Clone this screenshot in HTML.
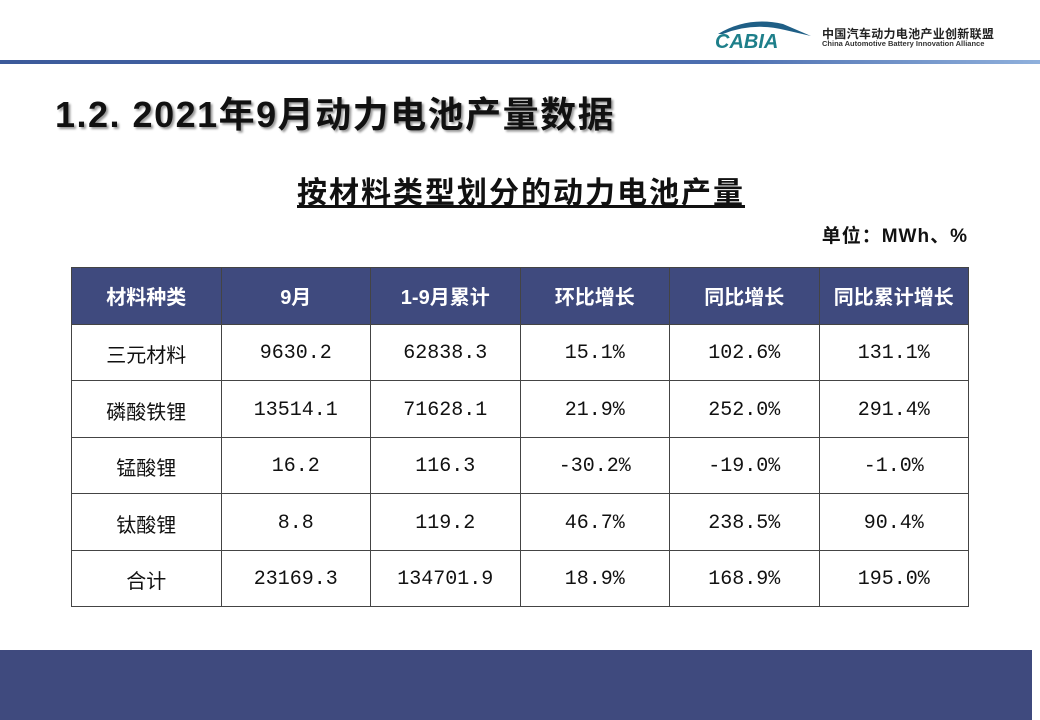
<!DOCTYPE html>
<html><head><meta charset="utf-8"><style>
body{margin:0;width:1040px;height:720px;background:#fff;position:relative;overflow:hidden;font-family:"Liberation Sans","Noto Sans CJK SC",sans-serif}
.line{position:absolute;left:0;top:60px;width:1040px;height:4px;background:linear-gradient(90deg,#3c5a9a,#4d6fb0 70%,#8fb0dc)}
.logo{position:absolute;left:713px;top:18px}
.cn{position:absolute;left:822px;top:25px;font-size:12px;font-weight:bold;color:#222;letter-spacing:0.3px}
.en{position:absolute;left:822px;top:39px;font-size:7.5px;font-weight:bold;color:#333}
h1{position:absolute;left:55px;top:86px;margin:0;font-size:36px;letter-spacing:1.5px;font-weight:bold;color:#111;text-shadow:2px 2px 2px #999;white-space:nowrap}
.sub{position:absolute;left:297px;top:168px;font-size:30px;letter-spacing:2px;font-weight:bold;text-decoration:underline;color:#111;white-space:nowrap}
.unit{position:absolute;right:72px;top:221px;font-size:19px;letter-spacing:1px;font-weight:bold;color:#111}
table{position:absolute;left:71px;top:267px;border-collapse:collapse;table-layout:fixed;width:898px}
td,th{border:1px solid #444;text-align:center;font-size:20px;color:#111;height:55.5px;padding:0}
th{background:#3f4a7e;color:#fff;font-weight:bold}
td{font-family:"Liberation Mono","Noto Sans CJK SC",monospace;padding-top:3px;height:52.5px}
td:first-child{font-family:"Liberation Sans","Noto Sans CJK SC",sans-serif}
.foot{position:absolute;left:0;top:650px;width:1032px;height:70px;background:#3f4a7e}
</style></head><body>
<svg class="logo" width="100" height="32" viewBox="0 0 100 32">
<path d="M5 16 Q35 -2 70 6 L98 18 L72 12 Q40 4 10 16Z" fill="#1f5f86"/>
<text x="2" y="30" font-family="Liberation Sans" font-style="italic" font-weight="bold" font-size="20" fill="#1e7f8a">CABIA</text>
</svg>
<div class="cn">中国汽车动力电池产业创新联盟</div>
<div class="en">China Automotive Battery Innovation Alliance</div>
<div class="line"></div>
<h1>1.2. 2021年9月动力电池产量数据</h1>
<div class="sub">按材料类型划分的动力电池产量</div>
<div class="unit">单位：MWh、%</div>
<table>
<tr><th>材料种类</th><th>9月</th><th>1-9月累计</th><th>环比增长</th><th>同比增长</th><th>同比累计增长</th></tr>
<tr><td>三元材料</td><td>9630.2</td><td>62838.3</td><td>15.1%</td><td>102.6%</td><td>131.1%</td></tr>
<tr><td>磷酸铁锂</td><td>13514.1</td><td>71628.1</td><td>21.9%</td><td>252.0%</td><td>291.4%</td></tr>
<tr><td>锰酸锂</td><td>16.2</td><td>116.3</td><td>-30.2%</td><td>-19.0%</td><td>-1.0%</td></tr>
<tr><td>钛酸锂</td><td>8.8</td><td>119.2</td><td>46.7%</td><td>238.5%</td><td>90.4%</td></tr>
<tr><td>合计</td><td>23169.3</td><td>134701.9</td><td>18.9%</td><td>168.9%</td><td>195.0%</td></tr>
</table>
<div class="foot"></div>
</body></html>
